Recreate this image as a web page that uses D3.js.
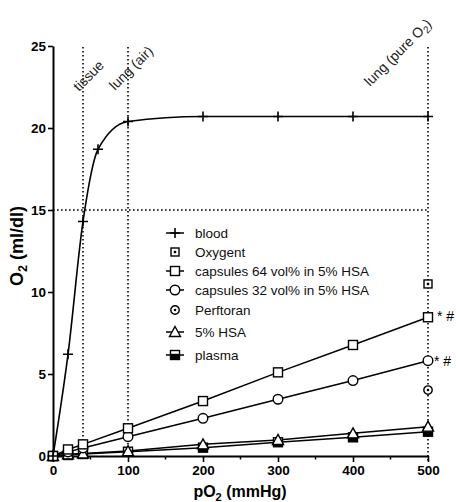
<!DOCTYPE html>
<html><head><meta charset="utf-8">
<script src="https://cdn.jsdelivr.net/npm/d3@7/dist/d3.min.js"></script>
<style>body{margin:0;background:#fff}svg{display:block}</style></head>
<body>
<script>
// ---- data ----
const xTicks = [0, 100, 200, 300, 400, 500];
const xMinorTicks = [50, 150, 250, 350, 450];
const yTicks = [0, 5, 10, 15, 20, 25];
const bloodX = [0, 20, 40, 60, 100, 200, 300, 400, 500];
const bloodY = [0, 6.2, 14.3, 18.7, 20.4, 20.7, 20.7, 20.7, 20.7];
const pX = [0, 20, 40, 100, 200, 300, 400, 500];
const cap64 = [0, 0.4, 0.71, 1.69, 3.35, 5.1, 6.77, 8.46];
const cap32 = [0, 0.25, 0.49, 1.18, 2.3, 3.46, 4.6, 5.81];
const hsa = [0, 0.1, 0.15, 0.3, 0.71, 0.98, 1.38, 1.79];
const plasma = [0, 0.06, 0.12, 0.26, 0.51, 0.84, 1.14, 1.48];
const oxygentX = [500], oxygentY = [10.49];
const perftoranX = [500], perftoranY = [4.02];
const refX = [40, 100, 500];
const refLabels = ["tissue", "lung (air)", "lung (pure O"];
const refY = 15;
const legendLabels = ["blood", "Oxygent", "capsules 64 vol% in 5% HSA", "capsules 32 vol% in 5% HSA", "Perftoran", "5% HSA", "plasma"];
const legendKeys = ["plus", "sqdot", "square", "circle", "cdot", "tri", "half"];
const legendLine = [true, false, true, true, false, true, true];
const sigLabel = "* #";

const W = 456, H = 502;
const svg = d3.select("body").append("svg").attr("width", W).attr("height", H);
const x = d3.scaleLinear().domain([0, 500]).range([53, 428]);
const y = d3.scaleLinear().domain([0, 25]).range([456, 46]);
const FONT = "'Liberation Sans', Arial, Helvetica, sans-serif";

// reference dotted lines
const dot = {stroke: "#000", "stroke-width": 1.6, "stroke-dasharray": "1.6,2.4"};
function applyAttrs(sel, o) { for (const k in o) sel.attr(k, o[k]); return sel; }
refX.forEach(v => {
  applyAttrs(svg.append("line").attr("x1", x(v)).attr("x2", x(v)).attr("y1", y(25) + 1).attr("y2", v === 500 ? 462 : y(0)), dot);
});
applyAttrs(svg.append("line").attr("x1", x(0)).attr("x2", x(500)).attr("y1", y(refY)).attr("y2", y(refY)), dot);

// rotated labels
const labPos = [[79, 92], [115, 91], [370, 87]];
refLabels.forEach((t, i) => {
  const tx = svg.append("text").attr("transform", `translate(${labPos[i][0]},${labPos[i][1]}) rotate(-45)`)
    .attr("font-family", FONT).attr("font-size", 14).attr("fill", "#222").text(t);
  if (i === 2) {
    tx.append("tspan").attr("font-size", 10).attr("dy", 3).text("2");
    tx.append("tspan").attr("dy", -3).text(")");
  }
});

// axes
const gx = svg.append("g").attr("transform", `translate(0,${y(0)})`)
  .call(d3.axisBottom(x).tickValues(xTicks).tickSize(6).tickSizeOuter(0).tickPadding(3));
gx.selectAll(".tick line").attr("stroke-width", 1.6);
gx.select(".domain").attr("stroke-width", 2);
gx.selectAll("text").attr("font-family", FONT).attr("font-weight", "bold").attr("font-size", 13.5).attr("fill", "#000");
svg.append("g").selectAll("line").data(xMinorTicks).join("line")
  .attr("x1", d => x(d)).attr("x2", d => x(d)).attr("y1", y(0)).attr("y2", y(0) + 3.5)
  .attr("stroke", "#000").attr("stroke-width", 1.5);

const gy = svg.append("g").attr("transform", `translate(${x(0)},0)`)
  .call(d3.axisLeft(y).tickValues(yTicks).tickSize(5).tickSizeOuter(0).tickPadding(2));
gy.selectAll(".tick line").attr("stroke-width", 1.6);
gy.select(".domain").attr("stroke-width", 2);
gy.selectAll("text").attr("font-family", FONT).attr("font-weight", "bold").attr("font-size", 13.5).attr("fill", "#000");

// axis titles
const xt = svg.append("text").attr("x", 240).attr("y", 497).attr("text-anchor", "middle")
  .attr("font-family", FONT).attr("font-weight", "bold").attr("font-size", 16);
xt.append("tspan").text("pO");
xt.append("tspan").attr("font-size", 11).attr("dy", 4).text("2");
xt.append("tspan").attr("dy", -4).text(" (mmHg)");
const yt = svg.append("text").attr("transform", "translate(23,246) rotate(-90)").attr("text-anchor", "middle")
  .attr("font-family", FONT).attr("font-weight", "bold").attr("font-size", 18);
yt.append("tspan").text("O");
yt.append("tspan").attr("font-size", 12.5).attr("dy", 4).text("2");
yt.append("tspan").attr("dy", -4).text(" (ml/dl)");

// marker drawing
function marker(g, kind, cx, cy) {
  const s = g.append("g").attr("transform", `translate(${cx},${cy})`);
  if (kind === "plus") {
    s.append("path").attr("d", "M-5,0H5M0,-5V5").attr("stroke", "#000").attr("stroke-width", 1.6);
  } else if (kind === "square") {
    s.append("rect").attr("x", -4.5).attr("y", -4.5).attr("width", 9).attr("height", 9)
      .attr("fill", "#fff").attr("stroke", "#000").attr("stroke-width", 1.4);
  } else if (kind === "sqdot") {
    s.append("rect").attr("x", -4).attr("y", -4).attr("width", 8).attr("height", 8)
      .attr("fill", "#fff").attr("stroke", "#000").attr("stroke-width", 1.4);
    s.append("rect").attr("x", -1.2).attr("y", -1.2).attr("width", 2.4).attr("height", 2.4).attr("fill", "#000");
  } else if (kind === "circle") {
    s.append("circle").attr("r", 4.8).attr("fill", "#fff").attr("stroke", "#000").attr("stroke-width", 1.4);
  } else if (kind === "cdot") {
    s.append("circle").attr("r", 4.2).attr("fill", "#fff").attr("stroke", "#000").attr("stroke-width", 1.4);
    s.append("circle").attr("r", 1.3).attr("fill", "#000");
  } else if (kind === "tri") {
    s.append("path").attr("d", "M0,-5.5L5.5,4.5H-5.5Z").attr("fill", "#fff").attr("stroke", "#000").attr("stroke-width", 1.4);
  } else if (kind === "half") {
    s.append("rect").attr("x", -4.5).attr("y", -4.5).attr("width", 9).attr("height", 9)
      .attr("fill", "#fff").attr("stroke", "#000").attr("stroke-width", 1.4);
    s.append("rect").attr("x", -4.5).attr("y", -1.2).attr("width", 9).attr("height", 5.7).attr("fill", "#000");
  }
}

const line = d3.line().x(d => x(d[0])).y(d => y(d[1]));
const series = [
  {xs: pX, ys: plasma, kind: "half"},
  {xs: pX, ys: hsa, kind: "tri"},
  {xs: pX, ys: cap32, kind: "circle"},
  {xs: pX, ys: cap64, kind: "square"},
];
const gs = svg.append("g");
series.forEach(s => {
  const pts = s.xs.map((v, i) => [v, s.ys[i]]);
  gs.append("path").attr("d", line(pts)).attr("fill", "none").attr("stroke", "#000").attr("stroke-width", 1.5);
});
series.forEach(s => s.xs.forEach((v, i) => marker(gs, s.kind, x(v), y(s.ys[i]))));

// blood
const bpts = bloodX.map((v, i) => [v, bloodY[i]]);
gs.append("path").attr("d", d3.line().x(d => x(d[0])).y(d => y(d[1])).curve(d3.curveMonotoneX)(bpts))
  .attr("fill", "none").attr("stroke", "#000").attr("stroke-width", 1.6);
bpts.forEach(p => marker(gs, "plus", x(p[0]), y(p[1])));

oxygentX.forEach((v, i) => marker(gs, "sqdot", x(v), y(oxygentY[i])));
perftoranX.forEach((v, i) => marker(gs, "cdot", x(v), y(perftoranY[i])));

// significance labels
[[cap64, 437, 4], [cap32, 434, 5]].forEach(([arr, lx, dy]) => {
  svg.append("text").attr("x", lx).attr("y", y(arr[arr.length - 1]) + dy)
    .attr("font-family", FONT).attr("font-size", 14).attr("fill", "#000").text(sigLabel);
});

// legend
const legY = [233, 252, 271, 290, 310, 332, 355];
const lg = svg.append("g");
legendLabels.forEach((t, i) => {
  if (legendLine[i]) lg.append("line").attr("x1", 166).attr("x2", 184).attr("y1", legY[i]).attr("y2", legY[i])
    .attr("stroke", "#000").attr("stroke-width", 1.5);
  marker(lg, legendKeys[i], 175, legY[i]);
  lg.append("text").attr("x", 195).attr("y", legY[i] + 4.5).attr("font-family", FONT).attr("font-size", 13.5)
    .attr("fill", "#111").text(t);
});
</script>
</body></html>
